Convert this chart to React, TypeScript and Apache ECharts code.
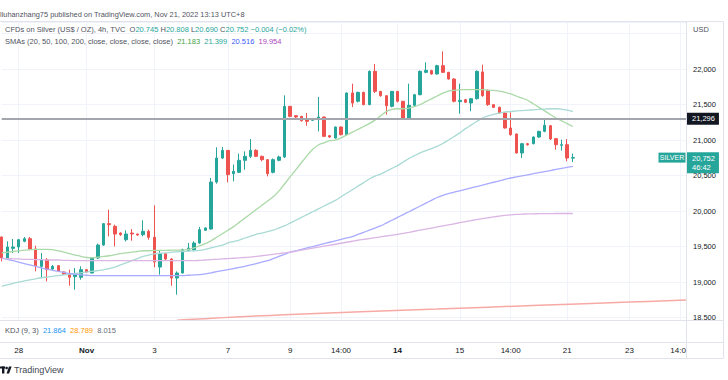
import React, { useEffect, useRef } from "react";
import * as echarts from "echarts";

const FONT = "'Liberation Sans', Arial, sans-serif";

// ---- data ----
// 4h candles: [open, close, low, high]
const candles: number[][] = [
  [19.634, 19.338, 19.29, 19.64],
  [19.338, 19.493, 19.315, 19.573],
  [19.474, 19.493, 19.408, 19.606],
  [19.493, 19.596, 19.41, 19.606],
  [19.573, 19.61, 19.56, 19.634],
  [19.61, 19.465, 19.446, 19.634],
  [19.465, 19.23, 19.15, 19.512],
  [19.221, 19.315, 19.052, 19.408],
  [19.315, 19.174, 19.009, 19.338],
  [19.183, 19.221, 19.17, 19.24],
  [19.23, 19.15, 19.14, 19.24],
  [19.141, 19.113, 19.1, 19.15],
  [19.113, 19.066, 18.948, 19.174],
  [19.075, 19.099, 18.892, 19.197],
  [19.066, 19.174, 19.033, 19.221],
  [19.174, 19.141, 19.13, 19.18],
  [19.127, 19.338, 19.12, 19.35],
  [19.338, 19.521, 19.324, 19.54],
  [19.521, 19.822, 19.51, 19.83],
  [19.822, 19.808, 19.643, 20.019],
  [19.784, 19.676, 19.502, 19.808],
  [19.69, 19.667, 19.65, 19.7],
  [19.596, 19.676, 19.573, 19.728],
  [19.69, 19.676, 19.582, 19.746],
  [19.676, 19.662, 19.65, 19.68],
  [19.667, 19.714, 19.643, 19.869],
  [19.714, 19.629, 19.596, 19.737],
  [19.629, 19.282, 19.207, 20.08],
  [19.211, 19.399, 19.103, 19.446],
  [19.399, 19.324, 19.31, 19.41],
  [19.324, 19.056, 18.948, 19.338],
  [19.056, 19.127, 18.822, 19.15],
  [19.127, 19.455, 19.12, 19.47],
  [19.446, 19.479, 19.432, 19.549],
  [19.455, 19.549, 19.432, 19.573],
  [19.549, 19.737, 19.54, 19.775],
  [19.728, 19.761, 19.72, 19.77],
  [19.746, 20.408, 19.737, 20.465],
  [20.408, 20.746, 20.385, 20.897],
  [20.746, 20.854, 20.732, 20.901],
  [20.854, 20.512, 20.404, 20.86],
  [20.526, 20.559, 20.418, 20.653],
  [20.545, 20.714, 20.535, 20.808],
  [20.714, 20.77, 20.582, 20.84],
  [20.77, 20.854, 20.746, 21.014],
  [20.854, 20.77, 20.76, 20.87],
  [20.77, 20.723, 20.7, 20.78],
  [20.723, 20.526, 20.488, 20.73],
  [20.545, 20.723, 20.53, 20.74],
  [20.714, 20.761, 20.7, 20.78],
  [20.761, 21.474, 20.746, 21.629],
  [21.474, 21.333, 21.32, 21.48],
  [21.343, 21.324, 21.31, 21.35],
  [21.333, 21.272, 21.26, 21.34],
  [21.286, 21.263, 21.2, 21.38],
  [21.277, 21.3, 21.27, 21.31],
  [21.31, 21.324, 21.122, 21.606],
  [21.324, 21.052, 21.04, 21.33],
  [21.061, 21.042, 21.03, 21.07],
  [21.028, 21.183, 21.02, 21.19],
  [21.183, 21.075, 21.065, 21.19],
  [21.075, 21.662, 21.065, 21.67],
  [21.662, 21.521, 21.465, 21.793],
  [21.545, 21.671, 21.53, 21.68],
  [21.671, 21.498, 21.49, 21.68],
  [21.498, 21.967, 21.49, 21.98],
  [21.967, 21.685, 21.662, 22.07],
  [21.685, 21.624, 21.61, 21.69],
  [21.624, 21.484, 21.357, 21.63],
  [21.474, 21.685, 21.46, 21.69],
  [21.685, 21.545, 21.53, 21.69],
  [21.545, 21.3, 21.29, 21.55],
  [21.3, 21.488, 21.29, 21.793],
  [21.488, 21.638, 21.48, 21.65],
  [21.638, 21.967, 21.63, 21.98],
  [21.953, 21.981, 21.94, 22.094],
  [21.977, 21.93, 21.92, 21.99],
  [21.93, 22.047, 21.92, 22.06],
  [22.047, 21.953, 21.944, 22.249],
  [21.953, 21.859, 21.85, 21.96],
  [21.859, 21.545, 21.53, 21.87],
  [21.54, 21.559, 21.371, 21.793],
  [21.568, 21.531, 21.52, 21.58],
  [21.521, 21.582, 21.404, 21.59],
  [21.582, 21.967, 21.57, 21.98],
  [21.958, 21.624, 21.61, 22.061],
  [21.7, 21.498, 21.48, 21.71],
  [21.498, 21.46, 21.45, 21.5],
  [21.46, 21.38, 21.37, 21.47],
  [21.38, 21.169, 21.16, 21.39],
  [21.169, 21.075, 21.06, 21.39],
  [21.085, 20.817, 20.81, 21.09],
  [20.817, 20.948, 20.746, 20.96],
  [20.948, 20.934, 20.92, 20.96],
  [20.948, 21.042, 20.94, 21.05],
  [21.042, 21.122, 21.03, 21.13],
  [21.122, 21.207, 21.11, 21.3],
  [21.202, 21.014, 21.0, 21.21],
  [21.019, 20.934, 20.864, 21.03],
  [20.925, 20.934, 20.85, 21.005],
  [20.934, 20.746, 20.7, 21.014],
  [20.745, 20.752, 20.69, 20.808],
];

const sma20: number[] = [
  19.41, 19.42, 19.43, 19.44, 19.45, 19.455, 19.46, 19.46, 19.46, 19.455,
  19.44, 19.42, 19.4, 19.38, 19.36, 19.345, 19.34, 19.35, 19.36, 19.37,
  19.385, 19.4, 19.41, 19.42, 19.43, 19.44, 19.44, 19.445, 19.445, 19.445,
  19.45, 19.45, 19.45, 19.46, 19.48, 19.51, 19.54, 19.58, 19.63, 19.68,
  19.73, 19.78, 19.84, 19.9, 19.96, 20.02, 20.08, 20.14, 20.2, 20.28,
  20.38, 20.48, 20.58, 20.68, 20.78, 20.87, 20.93, 20.96, 20.99, 21.0,
  21.03, 21.07, 21.11, 21.15, 21.19, 21.23, 21.28, 21.34, 21.4, 21.43,
  21.44, 21.44, 21.45, 21.47, 21.5, 21.54, 21.58, 21.62, 21.66, 21.69,
  21.7, 21.71, 21.71, 21.71, 21.71, 21.71, 21.7, 21.7, 21.69, 21.67,
  21.65, 21.62, 21.59, 21.56, 21.51, 21.46, 21.41, 21.36, 21.31, 21.27,
  21.23, 21.19,
];

const sma50: number[] = [
  18.94, 18.96, 18.98, 19.0, 19.015, 19.03, 19.045, 19.06, 19.07, 19.08,
  19.09, 19.1, 19.11, 19.12, 19.13, 19.14, 19.15, 19.16, 19.17, 19.19,
  19.21, 19.24, 19.27, 19.3, 19.33, 19.36, 19.38, 19.395, 19.405, 19.41,
  19.42, 19.425, 19.43, 19.435, 19.44, 19.445, 19.46, 19.48, 19.5, 19.52,
  19.55, 19.57, 19.59, 19.62, 19.645, 19.67, 19.69, 19.71, 19.73, 19.76,
  19.79, 19.83, 19.87, 19.91, 19.95, 19.99, 20.03, 20.07, 20.11, 20.15,
  20.2, 20.25, 20.3, 20.35, 20.4, 20.45, 20.49, 20.52, 20.56, 20.6,
  20.64, 20.69, 20.74, 20.78, 20.82, 20.85, 20.88, 20.91, 20.95, 21.0,
  21.05, 21.1, 21.16, 21.21, 21.26, 21.31, 21.34, 21.36, 21.38, 21.395,
  21.4, 21.41, 21.415, 21.42, 21.425, 21.43, 21.435, 21.44, 21.44, 21.435,
  21.42, 21.4,
];

const sma100: number[] = [
  19.34, 19.32, 19.3, 19.28, 19.26, 19.24, 19.22, 19.2, 19.18, 19.165,
  19.15, 19.135, 19.12, 19.11, 19.1, 19.095, 19.09, 19.09, 19.09, 19.09,
  19.09, 19.09, 19.09, 19.09, 19.09, 19.09, 19.09, 19.09, 19.09, 19.09,
  19.09, 19.09, 19.09, 19.095, 19.1, 19.105, 19.115, 19.13, 19.145, 19.16,
  19.175, 19.19, 19.205, 19.22, 19.24, 19.26, 19.28, 19.3, 19.33, 19.36,
  19.39, 19.42, 19.44, 19.46, 19.48, 19.5, 19.52, 19.54, 19.56, 19.58,
  19.6, 19.62, 19.64, 19.67, 19.7, 19.73, 19.76, 19.79, 19.83, 19.87,
  19.91, 19.95, 19.99, 20.03, 20.07, 20.11, 20.15, 20.19, 20.22, 20.245,
  20.265, 20.285, 20.305, 20.325, 20.345, 20.365, 20.385, 20.405, 20.425, 20.445,
  20.465, 20.48, 20.495, 20.51, 20.525, 20.54, 20.555, 20.57, 20.585, 20.6,
  20.615, 20.63,
];

const sma200: number[] = [
  19.33, 19.33, 19.325, 19.325, 19.32, 19.32, 19.315, 19.315, 19.31, 19.31,
  19.31, 19.305, 19.305, 19.3, 19.3, 19.3, 19.3, 19.3, 19.3, 19.3,
  19.3, 19.3, 19.3, 19.3, 19.3, 19.3, 19.3, 19.3, 19.3, 19.3,
  19.3, 19.3, 19.3, 19.3, 19.3, 19.305, 19.31, 19.315, 19.32, 19.325,
  19.33, 19.335, 19.34, 19.345, 19.35, 19.36, 19.37, 19.38, 19.39, 19.4,
  19.41, 19.42, 19.434, 19.448, 19.462, 19.476, 19.49, 19.504, 19.518, 19.532,
  19.546, 19.56, 19.574, 19.588, 19.6, 19.612, 19.624, 19.636, 19.648, 19.66,
  19.672, 19.686, 19.7, 19.715, 19.73, 19.745, 19.76, 19.775, 19.79, 19.805,
  19.82, 19.835, 19.85, 19.865, 19.88, 19.893, 19.905, 19.917, 19.928, 19.938,
  19.946, 19.952, 19.956, 19.959, 19.961, 19.962, 19.963, 19.964, 19.965, 19.965,
  19.965, 19.965,
];

// long rising line near the bottom of the price pane
const redLineSlot: number[] = [31, 33, 50, 77, 95, 111, 121];
const redLineValue: number[] = [18.46, 18.472, 18.54, 18.62, 18.672, 18.718, 18.746];

const slotCount = 122;
const categories: string[] = Array.from({ length: slotCount }, (_, i) => "c" + i);

const tickSlots: number[] = [3, 15, 27, 40, 51, 60, 70, 81, 90, 100, 111, 120];
const tickTexts: string[] = ["28", "Nov", "3", "7", "9", "14:00", "14", "15", "14:00", "21", "23", "14:00"];
const boldTicks: string[] = ["Nov", "14"];

const hLinePrice = 21.296;
const lastPrice = 20.752;
const countdown = "46:42";

const headerTitle = "lluhanzhang75 published on TradingView.com, Nov 21, 2022 13:13 UTC+8";
const symbolTitle = "CFDs on Silver (US$ / OZ), 4h, TVC";
const ohlcKeys: string[] = ["O", "H", "L", "C"];
const ohlcValues: string[] = ["20.745", "20.808", "20.690", "20.752"];
const changeText = "\u22120.004 (\u22120.02%)";
const smaTitle = "SMAs (20, 50, 100, 200, close, close, close, close)";
const smaValues: string[] = ["21.183", "21.399", "20.516", "19.954"];
const smaTextColors: string[] = ["#43a047", "#26a69a", "#3d5afe", "#ab47bc"];
const smaLineColors: string[] = ["#abd9a8", "#a9dad5", "#a9abff", "#dbb6e4"];
const kdjTitle = "KDJ (9, 3)";
const kdjValues: string[] = ["21.864", "28.789", "8.015"];
const kdjColors: string[] = ["#2196f3", "#ff9800", "#6a6d78"];

const UP = "#26a69a";
const DOWN = "#ef5350";

const fmtPrice = (v: number) => v.toFixed(3).replace(".", ",");

export default function App() {
  const ref = useRef<HTMLDivElement>(null);

  useEffect(() => {
    if (!ref.current) return;
    const chart = echarts.init(ref.current, null, { renderer: "svg" });

    const tickMap: Record<number, string> = {};
    tickSlots.forEach((s, i) => (tickMap[s] = tickTexts[i]));

    const ohlcRich =
      ohlcKeys.map((k, i) => `{k|${k}}{v|${ohlcValues[i]}}`).join(" ") + ` {v|${changeText}}`;
    const smaRich = smaValues.map((v, i) => `{s${i}|${v}}`).join("  ");
    const kdjRich = kdjValues.map((v, i) => `{k${i}|${v}}`).join("  ");

    const smaRichStyles: any = {};
    smaTextColors.forEach((c, i) => (smaRichStyles["s" + i] = { fill: c, fontSize: 7.5, fontFamily: FONT }));
    const kdjRichStyles: any = {};
    kdjColors.forEach((c, i) => (kdjRichStyles["k" + i] = { fill: c, fontSize: 7.5, fontFamily: FONT }));

    const frame = "#e0e3eb";
    const hl = (y: number) => ({
      type: "line",
      z: 120,
      silent: true,
      shape: { x1: 0, y1: y, x2: 723, y2: y },
      style: { stroke: frame, lineWidth: 1 },
    });

    const smaSeries = [sma20, sma50, sma100, sma200].map((d, i) => ({
      type: "line",
      data: d,
      showSymbol: false,
      symbol: "none",
      smooth: 0.3,
      z: 3,
      lineStyle: { color: smaLineColors[i], width: 1.3 },
      silent: true,
    }));

    const option: any = {
      animation: false,
      backgroundColor: "#ffffff",
      grid: { left: 1.7, right: 42, top: 22, height: 298, containLabel: false },
      xAxis: {
        type: "category",
        data: categories,
        boundaryGap: false,
        axisLine: { show: false },
        axisTick: { show: false },
        axisLabel: {
          interval: (idx: number) => tickMap[idx] !== undefined,
          formatter: (_v: string, idx: number) => {
            const t = tickMap[idx];
            if (t === undefined) return "";
            return boldTicks.includes(t) ? `{b|${t}}` : t;
          },
          margin: 26,
          fontSize: 8,
          color: "#131722",
          fontFamily: FONT,
          rich: { b: { fontWeight: "bold", fontSize: 8, color: "#131722", fontFamily: FONT } },
        },
        splitLine: {
          show: true,
          interval: (idx: number) => tickMap[idx] !== undefined,
          lineStyle: { color: "#f0f3fa", width: 1 },
        },
      },
      yAxis: {
        type: "value",
        position: "right",
        min: 18.465,
        max: 22.662,
        splitNumber: 8,
        axisLine: { show: false },
        axisTick: { show: false },
        axisLabel: {
          margin: 7,
          fontSize: 7.5,
          color: "#131722",
          fontFamily: FONT,
          showMinLabel: false,
          showMaxLabel: false,
          formatter: (v: number) => {
            if (Math.abs(v * 2 - Math.round(v * 2)) > 1e-6) return "";
            if (Math.abs(v - 22.5) < 1e-6) return "";
            return fmtPrice(v);
          },
        },
        splitLine: { show: true, lineStyle: { color: "#f0f3fa", width: 1 } },
      },
      series: [
        {
          type: "candlestick",
          data: candles,
          barWidth: 3,
          z: 2,
          clip: true,
          itemStyle: {
            color: UP,
            color0: DOWN,
            borderColor: UP,
            borderColor0: DOWN,
            borderWidth: 1,
          },
          markLine: {
            symbol: "none",
            silent: true,
            animation: false,
            z: 5,
            data: [
              {
                yAxis: hLinePrice,
                lineStyle: { color: "#a3a6ad", width: 2, type: "solid" },
                label: {
                  show: true,
                  position: "end",
                  distance: 0,
                  formatter: fmtPrice(hLinePrice),
                  backgroundColor: "#131722",
                  color: "#ffffff",
                  padding: [2, 4, 2, 6],
                  fontSize: 7.5,
                  fontFamily: FONT,
                  align: "left",
                },
              },
              {
                yAxis: lastPrice,
                lineStyle: { color: "rgba(0,0,0,0)", width: 0 },
                label: {
                  show: true,
                  position: "end",
                  distance: 0,
                  formatter: fmtPrice(lastPrice) + "\n" + countdown,
                  backgroundColor: UP,
                  color: "#ffffff",
                  padding: [2, 4, 1, 6],
                  lineHeight: 9,
                  fontSize: 7.5,
                  fontFamily: FONT,
                  align: "left",
                  offset: [0, 5],
                },
              },
            ],
          },
          markPoint: {
            silent: true,
            animation: false,
            data: [
              {
                coord: [categories[slotCount - 1], lastPrice],
                symbol: "rect",
                symbolSize: [27, 10],
                symbolOffset: [-14, 0],
                itemStyle: { color: UP },
                label: {
                  show: true,
                  position: "inside",
                  formatter: "SILVER",
                  color: "#ffffff",
                  fontSize: 7,
                  fontFamily: FONT,
                },
              },
            ],
          },
        },
        ...smaSeries,
        {
          type: "line",
          data: redLineSlot.map((s, i) => [categories[s], redLineValue[i]]),
          showSymbol: false,
          symbol: "none",
          smooth: 0.4,
          z: 3,
          lineStyle: { color: "#f7aaa5", width: 1.5 },
          silent: true,
        },
      ],
      graphic: {
        elements: [
          // clip the overflowing last time label
          {
            type: "rect",
            z: 110,
            silent: true,
            shape: { x: 687, y: 343, width: 40, height: 15 },
            style: { fill: "#ffffff" },
          },
          hl(21.5),
          hl(320.5),
          hl(342.5),
          hl(358.5),
          {
            type: "line",
            z: 120,
            silent: true,
            shape: { x1: 686.5, y1: 21.5, x2: 686.5, y2: 358.5 },
            style: { stroke: frame, lineWidth: 1 },
          },
          {
            type: "line",
            z: 120,
            silent: true,
            shape: { x1: 723.5, y1: 21.5, x2: 723.5, y2: 358.5 },
            style: { stroke: frame, lineWidth: 1 },
          },
          {
            type: "text",
            z: 120,
            x: 0,
            y: 14,
            style: {
              text: headerTitle,
              fill: "#50535e",
              fontSize: 7.4,
              fontFamily: FONT,
              verticalAlign: "middle",
            },
          },
          {
            type: "text",
            z: 120,
            x: 5,
            y: 29,
            style: {
              text: `{t|${symbolTitle}}  ${ohlcRich}`,
              fontSize: 7.5,
              fontFamily: FONT,
              verticalAlign: "middle",
              rich: {
                t: { fill: "#50535e", fontSize: 7.5, fontFamily: FONT },
                k: { fill: "#50535e", fontSize: 7.5, fontFamily: FONT },
                v: { fill: UP, fontSize: 7.5, fontFamily: FONT },
              },
            },
          },
          {
            type: "text",
            z: 120,
            x: 5,
            y: 41,
            style: {
              text: `{t|${smaTitle}}  ${smaRich}`,
              fontSize: 7.5,
              fontFamily: FONT,
              verticalAlign: "middle",
              rich: {
                t: { fill: "#50535e", fontSize: 7.5, fontFamily: FONT },
                ...smaRichStyles,
              },
            },
          },
          {
            type: "text",
            z: 120,
            x: 5,
            y: 330,
            style: {
              text: `{t|${kdjTitle}}  ${kdjRich}`,
              fontSize: 7.5,
              fontFamily: FONT,
              verticalAlign: "middle",
              rich: {
                t: { fill: "#50535e", fontSize: 7.5, fontFamily: FONT },
                ...kdjRichStyles,
              },
            },
          },
          {
            type: "text",
            z: 120,
            x: 693,
            y: 29,
            style: { text: "USD", fill: "#50535e", fontSize: 7.5, fontFamily: FONT, verticalAlign: "middle" },
          },
          // TradingView logo mark
          { type: "rect", z: 120, shape: { x: 0, y: 366.5, width: 5, height: 2 }, style: { fill: "#131722" } },
          { type: "rect", z: 120, shape: { x: 2, y: 366.5, width: 2.4, height: 7 }, style: { fill: "#131722" } },
          { type: "circle", z: 120, shape: { cx: 6.6, cy: 368, r: 1.3 }, style: { fill: "#131722" } },
          {
            type: "polygon",
            z: 120,
            shape: { points: [[6.5, 373.5], [9, 366.5], [11.6, 366.5], [9.1, 373.5]] },
            style: { fill: "#131722" },
          },
          {
            type: "text",
            z: 120,
            x: 14,
            y: 370,
            style: { text: "TradingView", fill: "#434651", fontSize: 9, fontFamily: FONT, verticalAlign: "middle" },
          },
        ],
      },
    };

    chart.setOption(option);
    return () => chart.dispose();
  }, []);

  return (
    <div
      ref={ref}
      style={{ position: "fixed", left: 0, top: 0, width: 728, height: 380, background: "#fff" }}
    />
  );
}
